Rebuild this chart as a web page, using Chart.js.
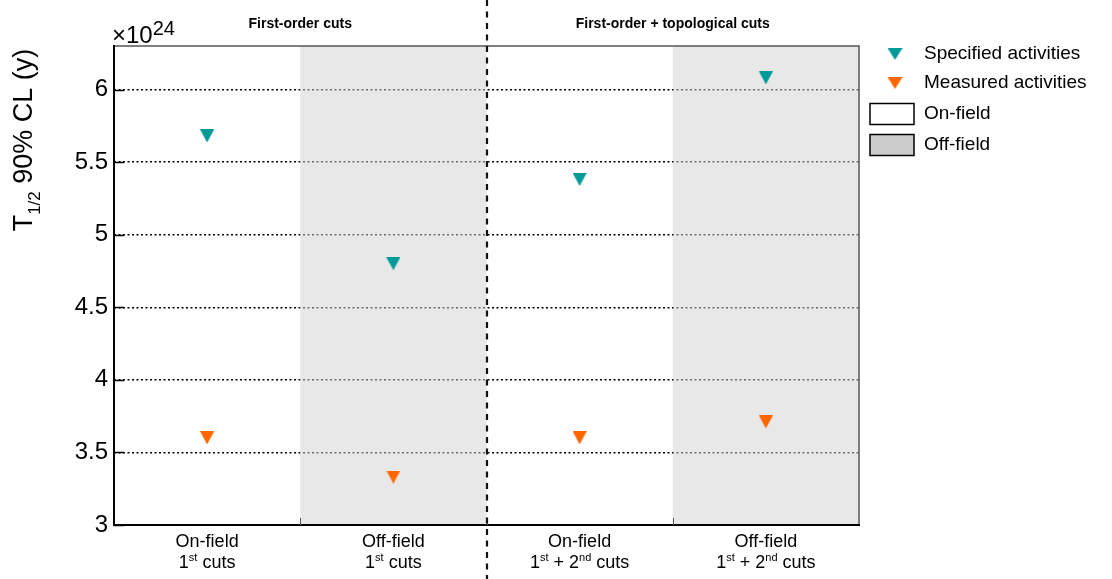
<!DOCTYPE html>
<html>
<head>
<meta charset="utf-8">
<script src="https://cdn.jsdelivr.net/npm/chart.js@4"></script>
<style>
  html, body { margin: 0; padding: 0; background: #fff; }
  canvas { display: block; }
</style>
</head>
<body>
<canvas id="chart" width="1112" height="579"></canvas>
<script>
  // chart values (y in units of 1e24 years)
  const CATEGORIES = ["On-field", "Off-field", "On-field", "Off-field"];
  const CUT_LABELS = ["1^{st} cuts", "1^{st} cuts", "1^{st} + 2^{nd} cuts", "1^{st} + 2^{nd} cuts"];
  const OFF_FIELD = [false, true, false, true];
  const GROUP_TITLES = ["First-order cuts", "First-order + topological cuts"];
  const SPECIFIED = [5.68, 4.80, 5.38, 6.08];
  const MEASURED = [3.60, 3.33, 3.60, 3.71];
  const Y_TICKS = [3, 3.5, 4, 4.5, 5, 5.5, 6];
  const Y_MIN = 3;
  const Y_MAX = 6.3;
  const Y_EXPONENT = "24";
  const Y_TITLE = "T_{1/2} 90% CL (y)";

  const FONT = "'Liberation Sans', Arial, Helvetica, sans-serif";
  const TEAL = "#009a99";
  const ORANGE = "#ff6600";
  const BAND = "#e8e8e8";

  const LEGEND_ITEMS = [
    { label: "Specified activities", kind: "marker", color: TEAL },
    { label: "Measured activities", kind: "marker", color: ORANGE },
    { label: "On-field", kind: "box", color: "#ffffff" },
    { label: "Off-field", kind: "box", color: "#cccccc" },
  ];

  function triangle(color, w = 14, h = 13) {
    const c = document.createElement("canvas");
    c.width = w;
    c.height = h;
    const g = c.getContext("2d");
    g.fillStyle = color;
    g.beginPath();
    g.moveTo(0, 0);
    g.lineTo(w, 0);
    g.lineTo(w / 2, h);
    g.closePath();
    g.fill();
    return c;
  }

  function parseRich(s) {
    const out = [];
    const re = /([\^_])\{([^}]*)\}/g;
    let last = 0, m;
    while ((m = re.exec(s))) {
      if (m.index > last) out.push({ text: s.slice(last, m.index), mode: "n" });
      out.push({ text: m[2], mode: m[1] === "^" ? "sup" : "sub" });
      last = re.lastIndex;
    }
    if (last < s.length) out.push({ text: s.slice(last), mode: "n" });
    return out;
  }

  // draws text with ^{..} / _{..} parts, centred on x
  function drawRich(ctx, s, x, y, size, small, shift) {
    const parts = parseRich(s);
    let w = 0;
    parts.forEach((p) => {
      ctx.font = `${p.mode === "n" ? size : small}px ${FONT}`;
      p.w = ctx.measureText(p.text).width;
      w += p.w;
    });
    let cx = x - w / 2;
    ctx.textAlign = "left";
    ctx.textBaseline = "alphabetic";
    parts.forEach((p) => {
      ctx.font = `${p.mode === "n" ? size : small}px ${FONT}`;
      const dy = p.mode === "sup" ? -shift : p.mode === "sub" ? shift : 0;
      ctx.fillText(p.text, cx, y + dy);
      cx += p.w;
    });
  }

  function bandEdges(x, i) {
    const half = (x.right - x.left) / CATEGORIES.length / 2;
    const c = x.getPixelForValue(i);
    return [c - half, c + half];
  }

  function gridColor(chart) {
    const { ctx, chartArea: a, scales } = chart;
    if (!a || !scales.x) return "#000";
    const g = ctx.createLinearGradient(a.left, 0, a.right, 0);
    const span = a.right - a.left;
    const clamp = (v) => Math.min(1, Math.max(0, v));
    OFF_FIELD.forEach((off, i) => {
      const [l, r] = bandEdges(scales.x, i);
      const col = off ? "#6a6a6a" : "#000000";
      g.addColorStop(clamp((l - a.left) / span + 0.0001), col);
      g.addColorStop(clamp((r - a.left) / span - 0.0001), col);
    });
    return g;
  }

  const decor = {
    id: "decor",
    beforeDraw(chart) {
      const { ctx, chartArea: a, scales: { x } } = chart;
      ctx.save();
      ctx.fillStyle = "#fff";
      ctx.fillRect(0, 0, chart.width, chart.height);
      ctx.fillStyle = BAND;
      OFF_FIELD.forEach((off, i) => {
        if (!off) return;
        const [l, r] = bandEdges(x, i);
        ctx.fillRect(l, a.top, r - l, a.bottom - a.top);
      });
      ctx.restore();
    },
    afterDraw(chart) {
      const { ctx, chartArea: a, scales: { x, y } } = chart;
      ctx.save();

      // box
      ctx.strokeStyle = "#555";
      ctx.lineWidth = 1.5;
      ctx.beginPath();
      ctx.moveTo(a.left, a.top);
      ctx.lineTo(a.right, a.top);
      ctx.lineTo(a.right, a.bottom);
      ctx.stroke();
      ctx.strokeStyle = "#000";
      ctx.lineWidth = 2;
      ctx.beginPath();
      ctx.moveTo(a.left, a.top - 1);
      ctx.lineTo(a.left, a.bottom);
      ctx.lineTo(a.right + 1, a.bottom);
      ctx.stroke();

      // inward ticks
      ctx.lineWidth = 1.5;
      Y_TICKS.forEach((v) => {
        const py = Math.round(y.getPixelForValue(v)) + 0.5;
        ctx.beginPath();
        ctx.moveTo(a.left, py);
        ctx.lineTo(a.left + 10, py);
        ctx.stroke();
      });
      ctx.strokeStyle = "#555";
      ctx.lineWidth = 1;
      for (let i = 1; i < CATEGORIES.length; i++) {
        const px = Math.round(bandEdges(x, i)[0]) + 0.5;
        ctx.beginPath();
        ctx.moveTo(px, a.bottom);
        ctx.lineTo(px, a.bottom - 7);
        ctx.stroke();
      }

      // divider between the two cut groups
      const divX = Math.round(bandEdges(x, 2)[0]);
      ctx.strokeStyle = "#111";
      ctx.lineWidth = 2.2;
      ctx.setLineDash([6, 5.5]);
      ctx.beginPath();
      ctx.moveTo(divX, 0);
      ctx.lineTo(divX, chart.height);
      ctx.stroke();
      ctx.setLineDash([]);

      ctx.fillStyle = "#000";

      // category labels
      CATEGORIES.forEach((name, i) => {
        const cx = x.getPixelForValue(i);
        ctx.font = `18px ${FONT}`;
        ctx.textAlign = "center";
        ctx.textBaseline = "alphabetic";
        ctx.fillText(name, cx, a.bottom + 22);
        drawRich(ctx, CUT_LABELS[i], cx, a.bottom + 43, 18, 11, 7);
      });

      // group titles
      ctx.font = `bold 14px ${FONT}`;
      ctx.textAlign = "center";
      GROUP_TITLES.forEach((t, g) => {
        const cx = (x.getPixelForValue(2 * g) + x.getPixelForValue(2 * g + 1)) / 2;
        ctx.fillText(t, cx, 28);
      });

      // exponent
      ctx.textAlign = "left";
      ctx.font = `24px ${FONT}`;
      ctx.fillText("\u00d710", a.left - 2, a.top - 3);
      const w10 = ctx.measureText("\u00d710").width;
      ctx.font = `20px ${FONT}`;
      ctx.fillText(Y_EXPONENT, a.left - 2 + w10, a.top - 11);

      // y title
      ctx.save();
      ctx.translate(32, 140);
      ctx.rotate(-Math.PI / 2);
      drawRich(ctx, Y_TITLE, 0, 0, 27, 17, 8);
      ctx.restore();

      // legend
      const lx = a.right + 11;
      const rows = [54, 83, 114, 145];
      LEGEND_ITEMS.forEach((it, i) => {
        const cy = rows[i];
        if (it.kind === "marker") {
          const img = triangle(it.color, 15, 12);
          ctx.drawImage(img, lx + 25 - 7.5, cy - 6);
        } else {
          ctx.fillStyle = it.color;
          ctx.fillRect(lx, cy - 10.5, 44, 21);
          ctx.strokeStyle = "#000";
          ctx.lineWidth = 1.5;
          ctx.strokeRect(lx, cy - 10.5, 44, 21);
        }
        ctx.fillStyle = "#000";
        ctx.font = `19px ${FONT}`;
        ctx.textAlign = "left";
        ctx.textBaseline = "middle";
        ctx.fillText(it.label, lx + 54, cy);
      });

      ctx.restore();
    },
  };

  new Chart(document.getElementById("chart"), {
    type: "line",
    data: {
      labels: CATEGORIES,
      datasets: [
        { label: "Specified activities", data: SPECIFIED, showLine: false, pointStyle: triangle(TEAL), pointRadius: 7, pointHoverRadius: 7 },
        { label: "Measured activities", data: MEASURED, showLine: false, pointStyle: triangle(ORANGE), pointRadius: 7, pointHoverRadius: 7 },
      ],
    },
    options: {
      responsive: false,
      animation: false,
      devicePixelRatio: 1,
      layout: { padding: { left: 0, top: 46, right: 253, bottom: 54 } },
      plugins: { legend: { display: false }, tooltip: { enabled: false } },
      scales: {
        x: { type: "category", offset: true, display: false },
        y: {
          min: Y_MIN,
          max: Y_MAX,
          afterBuildTicks: (s) => { s.ticks = Y_TICKS.map((v) => ({ value: v })); },
          afterFit: (s) => { s.width = 114; },
          ticks: { color: "#000", font: { family: FONT, size: 24 }, padding: 6, callback: (v) => String(v) },
          grid: { color: (c) => gridColor(c.chart), lineWidth: 1.5, drawTicks: false },
          border: { display: false, dash: [2, 2.5] },
        },
      },
    },
    plugins: [decor],
  });
</script>
</body>
</html>
